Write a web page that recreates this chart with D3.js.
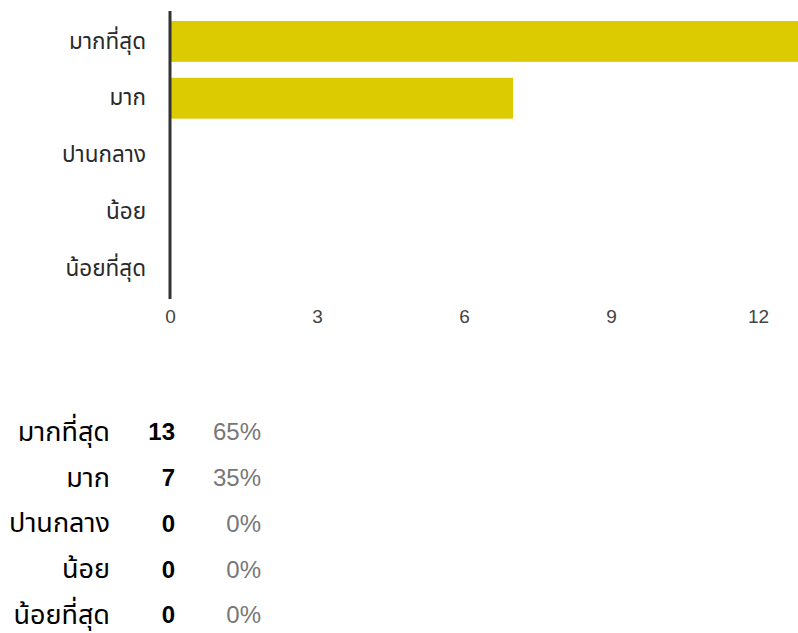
<!DOCTYPE html>
<html>
<head>
<meta charset="utf-8">
<script src="https://cdn.jsdelivr.net/npm/d3@7"></script>
<style>
  html, body { margin: 0; padding: 0; background: #fff; }
  svg { display: block; }
</style>
</head>
<body>
<svg id="chart" width="798" height="633"></svg>
<script>
// Survey answers and their counts
const categories = ["มากที่สุด", "มาก", "ปานกลาง", "น้อย", "น้อยที่สุด"];
const counts = [13, 7, 0, 0, 0];
const percents = ["65%", "35%", "0%", "0%", "0%"];
const tickValues = [0, 3, 6, 9, 12];

const svg = d3.select("#chart");
const W = 798, H = 633;
const thaiFont = "'Noto Sans Thai', 'Noto Sans', sans-serif";

const x = d3.scaleLinear().domain([0, 12.8]).range([170, 797.2]);
const y = d3.scaleBand().domain(categories).range([13, 297]).paddingInner(0.28).paddingOuter(0.14);

svg.append("defs").append("clipPath").attr("id", "plot")
  .append("rect").attr("x", 0).attr("y", 0).attr("width", W).attr("height", H);

// bars
svg.append("g").attr("clip-path", "url(#plot)")
  .selectAll("rect").data(categories).join("rect")
  .attr("x", x(0))
  .attr("y", d => y(d))
  .attr("width", (d, i) => x(counts[i]) - x(0))
  .attr("height", y.bandwidth())
  .attr("fill", "#dccb00");

// category axis
const yAxis = svg.append("g").attr("transform", `translate(${x(0)},0)`)
  .call(d3.axisLeft(y).tickSize(0).tickPadding(24));
yAxis.select(".domain").remove();
yAxis.selectAll("text")
  .attr("font-family", thaiFont)
  .attr("font-size", 22.5)
  .attr("fill", "#2a2a2a");
svg.append("line")
  .attr("x1", x(0)).attr("x2", x(0))
  .attr("y1", 11).attr("y2", 299)
  .attr("stroke", "#333").attr("stroke-width", 3);

// value axis
const xAxis = svg.append("g").attr("transform", "translate(0,306)")
  .call(d3.axisBottom(x).tickValues(tickValues).tickSize(0).tickPadding(4));
xAxis.select(".domain").remove();
xAxis.selectAll("text")
  .attr("font-family", "Arial, 'Liberation Sans', sans-serif")
  .attr("font-size", 19)
  .attr("fill", "#444");

// summary table
const rowY = d3.scalePoint().domain(categories).range([432, 615]);
const rows = svg.append("g").selectAll("g").data(categories).join("g")
  .attr("transform", d => `translate(0,${rowY(d)})`);
rows.append("text")
  .attr("x", 110).attr("dy", "0.33em").attr("text-anchor", "end")
  .attr("font-family", thaiFont)
  .attr("font-size", 27).attr("fill", "#000")
  .text(d => d);
rows.append("text")
  .attr("x", 175).attr("dy", "0.35em").attr("text-anchor", "end")
  .attr("font-family", "Arial, 'Liberation Sans', sans-serif")
  .attr("font-size", 24).attr("font-weight", "bold").attr("fill", "#000")
  .text((d, i) => counts[i]);
rows.append("text")
  .attr("x", 261).attr("dy", "0.35em").attr("text-anchor", "end")
  .attr("font-family", "Arial, 'Liberation Sans', sans-serif")
  .attr("font-size", 24).attr("fill", "#777")
  .text((d, i) => percents[i]);
</script>
</body>
</html>
